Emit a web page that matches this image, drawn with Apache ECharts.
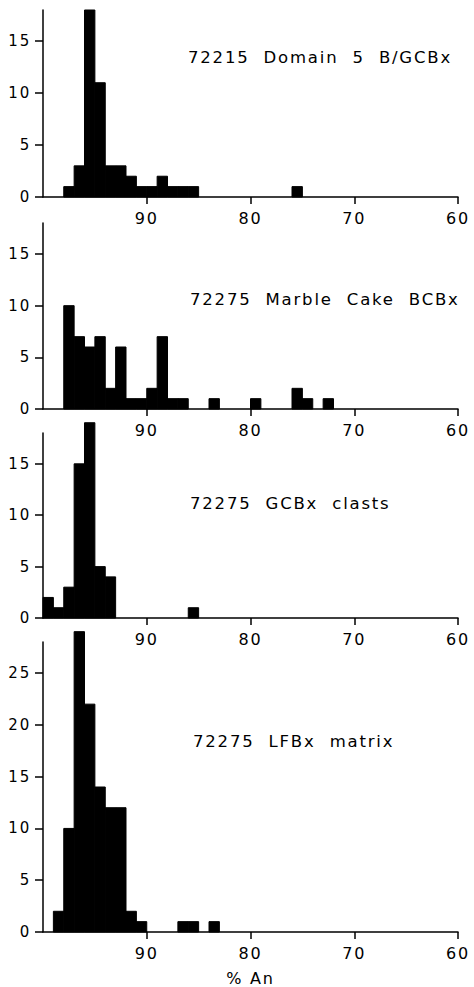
<!DOCTYPE html>
<html><head><meta charset="utf-8">
<script src="https://cdn.jsdelivr.net/npm/echarts@6/dist/echarts.min.js"></script>
<style>
html,body{margin:0;padding:0;background:#fff}
#chart{width:474px;height:987px}
#chart svg text{letter-spacing:1.8px}
</style>
</head><body><div id="chart"></div>
<script>
// x ticks (% An, axis runs from 100 on the left to 60 on the right)
const xTickValues = [60, 70, 80, 90];
const yTicksSmall = [0, 5, 10, 15];
const yTicksLarge = [0, 5, 10, 15, 20, 25];
const panelTitles = ['72215  Domain  5  B/GCBx', '72275  Marble  Cake  BCBx', '72275  GCBx  clasts', '72275  LFBx  matrix'];
const xAxisName = '% An';

// each bin is 1 % An wide; value = upper edge of the bin
const bins1   = [98, 97, 96, 95, 94, 93, 92, 91, 90, 89, 88, 87, 86, 76];
const counts1 = [ 1,  3, 18, 11,  3,  3,  2,  1,  1,  2,  1,  1,  1,  1];

const bins2   = [98, 97, 96, 95, 94, 93, 92, 91, 90, 89, 88, 87, 84, 80, 76, 75, 73];
const counts2 = [10,  7,  6,  7,  2,  6,  1,  1,  2,  7,  1,  1,  1,  1,  2,  1,  1];

const bins3   = [100, 99, 98, 97, 96, 95, 94, 86];
const counts3 = [  2,  1,  3, 15, 19,  5,  4,  1];

const bins4   = [99, 98, 97, 96, 95, 94, 93, 92, 91, 87, 86, 84];
const counts4 = [ 2, 10, 29, 22, 14, 12, 12,  2,  1,  1,  1,  1];

const yMax = [18, 18, 18, 28];
const binsAll = [bins1, bins2, bins3, bins4];
const countsAll = [counts1, counts2, counts3, counts4];

const FONT = 'DejaVu Sans';
const gridTops = [10, 223, 433, 642];
const gridHeights = [187, 186, 185, 290];
const titleTops = [49, 291, 495, 733];
const titleLefts = [188, 190, 190, 193];

const lineStyle = {color: '#000', width: 1.5};

const grids = [], xAxes = [], yAxes = [], series = [], titles = [];
for (let i = 0; i < 4; i++) {
  grids.push({left: 43, right: 16, top: gridTops[i], height: gridHeights[i]});
  xAxes.push({
    type: 'value', gridIndex: i, min: 60, max: 100, interval: 10, inverse: true,
    axisLine: {show: true, onZero: false, lineStyle},
    axisTick: {show: true, length: 7, lineStyle, customValues: xTickValues},
    axisLabel: {show: true, color: '#000', fontSize: 16, fontFamily: FONT, margin: 13, customValues: xTickValues},
    splitLine: {show: false},
    name: i === 3 ? xAxisName : '',
    nameLocation: 'middle', nameGap: 38,
    nameTextStyle: {color: '#000', fontSize: 16, fontFamily: FONT}
  });
  const yt = i === 3 ? yTicksLarge : yTicksSmall;
  yAxes.push({
    type: 'value', gridIndex: i, min: 0, max: yMax[i], interval: 5,
    axisLine: {show: true, lineStyle},
    axisTick: {show: true, length: 8, lineStyle, customValues: yt},
    axisLabel: {show: true, color: '#000', fontSize: 15, fontFamily: FONT, margin: 12, customValues: yt},
    splitLine: {show: false}
  });
  titles.push({
    text: panelTitles[i], left: titleLefts[i], top: titleTops[i], padding: 0,
    textStyle: {color: '#000', fontSize: 16.5, fontWeight: 'normal', fontFamily: FONT}
  });
  const data = binsAll[i].map((b, k) => [b, countsAll[i][k]]);
  series.push({
    type: 'custom', xAxisIndex: i, yAxisIndex: i, clip: false, data,
    encode: {x: 0, y: 1},
    renderItem: function (params, api) {
      const hi = api.value(0), c = api.value(1);
      const pTop = api.coord([hi, c]);
      const pBot = api.coord([hi - 1, 0]);
      const x = Math.min(pTop[0], pBot[0]);
      return {
        type: 'rect',
        shape: {x: x, y: pTop[1], width: Math.abs(pBot[0] - pTop[0]), height: pBot[1] - pTop[1]},
        style: {fill: '#000', stroke: '#000', lineWidth: 1}
      };
    }
  });
}

const chart = echarts.init(document.getElementById('chart'), null, {renderer: 'svg', width: 474, height: 987});
chart.setOption({
  animation: false,
  backgroundColor: '#fff',
  title: titles,
  grid: grids,
  xAxis: xAxes,
  yAxis: yAxes,
  series
});
</script>
</body></html>
